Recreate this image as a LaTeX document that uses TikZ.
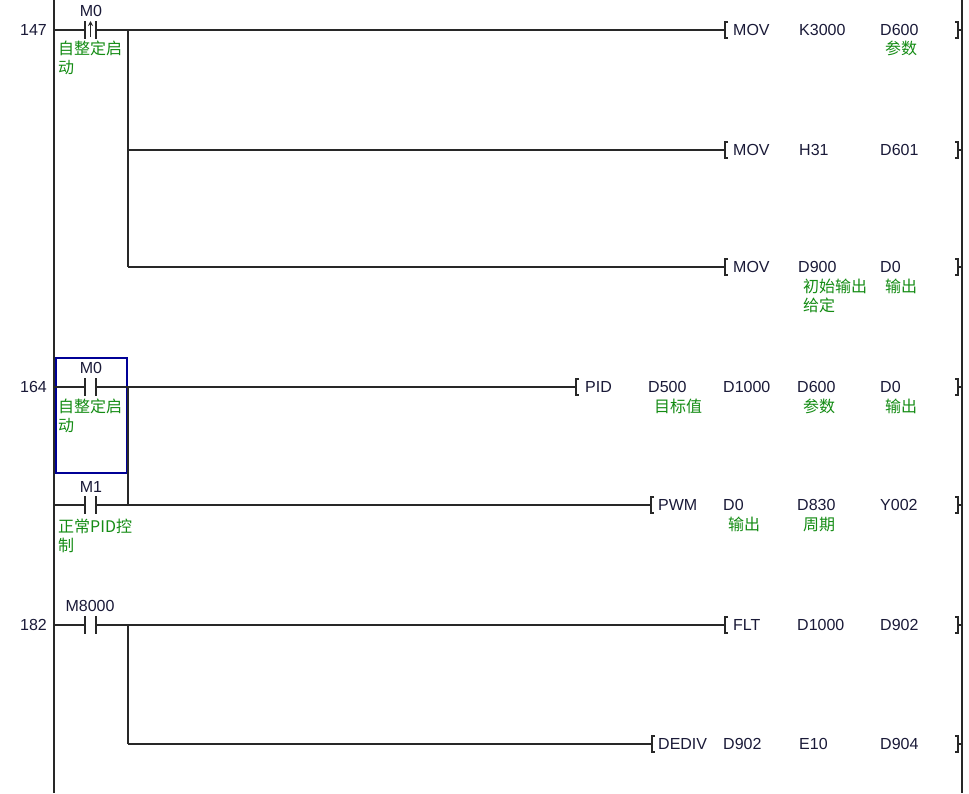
\documentclass[tikz,border=0pt]{standalone}
\usepackage{fontspec}
\setmainfont{Liberation Sans}
\newfontfamily\cjk{Noto Sans CJK SC}
\usetikzlibrary{arrows.meta}
\definecolor{txt}{RGB}{26,26,56}
\definecolor{cmt}{RGB}{20,140,20}
\definecolor{wirec}{RGB}{40,40,40}
\definecolor{selc}{RGB}{0,0,150}
\newcommand\ldctc[2]{%
  \coordinate (#1a) at (85,#2); \coordinate (#1b) at (96,#2);
  \draw[wirest] (85,#2-9) -- (85,#2+9) (96,#2-9) -- (96,#2+9);}
\newcommand\ldins[3]{%
  \coordinate (#1) at (#2,#3);
  \coordinate (#1e) at (958,#3);
  \coordinate (#1r) at (962,#3);
  \draw[wirest] (#2+3,#3-8) -- (#2,#3-8) -- (#2,#3+8) -- (#2+3,#3+8);
  \draw[wirest] (955,#3-8) -- (958,#3-8) -- (958,#3+8) -- (955,#3+8);
  \draw[wirest] (#1e) -- (#1r);}
\begin{document}
\begin{tikzpicture}[x=1pt,y=-1pt,
  wirest/.style={draw=wirec,line width=1.2pt},
  optx/.style={anchor=west,inner sep=0pt,text height=11.5pt,text depth=0pt,font=\fontsize{16}{18}\selectfont,text=txt},
  labtx/.style={anchor=center,inner sep=0pt,text height=11.5pt,text depth=0pt,font=\fontsize{16}{18}\selectfont,text=txt},
  cmtx/.style={anchor=west,inner sep=0pt,text height=11pt,text depth=0pt,font=\cjk\fontsize{16}{18}\selectfont,text=cmt},
  numtx/.style={anchor=east,inner sep=0pt,text height=11.5pt,text depth=0pt,font=\fontsize{16}{18}\selectfont,text=txt}]
\useasboundingbox (0,0) rectangle (969,793);
\fill[white] (0,0) rectangle (969,793);
% rails
\coordinate (LT) at (54,0); \coordinate (LB) at (54,793);
\coordinate (RT) at (962,0); \coordinate (RB) at (962,793);
\draw[wirest] (LT) -- (LB);
\draw[wirest] (RT) -- (RB);
% ---------- rung 147
\node[numtx] (n147) at (47,30) {147};
\coordinate (L1) at (54,30);
\ldctc{c1}{30}
\coordinate (ea) at (90.5,37); \coordinate (eb) at (90.5,21);
\draw[draw=wirec,line width=0.9pt,-{Stealth[length=5pt,width=5pt]}] (ea) -- (eb);
\node[labtx] (m0a) at (91,11) {M0};
\node[cmtx] (m0ac1) at (58,49) {自整定启};
\node[cmtx] (m0ac2) at (58,68) {动};
\coordinate (b1) at (128,30); \coordinate (b2) at (128,150); \coordinate (b3) at (128,267);
\ldins{i1}{725}{30}
\ldins{i2}{725}{150}
\ldins{i3}{725}{267}
\draw[wirest] (L1) -- (c1a);
\draw[wirest] (c1b) -- (i1);
\draw[wirest] (b1) -- (b3);
\draw[wirest] (b2) -- (i2);
\draw[wirest] (b3) -- (i3);
\node[optx] (t11) at (733,30) {MOV};
\node[optx] (t12) at (799,30) {K3000};
\node[optx] (t13) at (880,30) {D600};
\node[cmtx] (t13c) at (885,49) {参数};
\node[optx] (t21) at (733,150) {MOV};
\node[optx] (t22) at (799,150) {H31};
\node[optx] (t23) at (880,150) {D601};
\node[optx] (t31) at (733,267) {MOV};
\node[optx] (t32) at (798,267) {D900};
\node[optx] (t33) at (880,267) {D0};
\node[cmtx] (t32c1) at (803,287) {初始输出};
\node[cmtx] (t32c2) at (803,306) {给定};
\node[cmtx] (t33c) at (885,287) {输出};
% ---------- rung 164
\node[numtx] (n164) at (47,387) {164};
\draw[draw=selc,line width=2pt] (55.5,357.5) rectangle (127,473);
\coordinate (L4) at (54,387);
\ldctc{c4}{387}
\node[labtx] (m0b) at (91,368) {M0};
\node[cmtx] (m0bc1) at (58,407) {自整定启};
\node[cmtx] (m0bc2) at (58,426) {动};
\coordinate (b4) at (128,387); \coordinate (b5) at (128,505);
\coordinate (L5) at (54,505);
\ldctc{c5}{505}
\node[labtx] (m1) at (91,487) {M1};
\node[cmtx] (m1c1) at (58,527) {正常PID控};
\node[cmtx] (m1c2) at (58,546) {制};
\ldins{i4}{576}{387}
\ldins{i5}{651}{505}
\draw[wirest] (L4) -- (c4a);
\draw[wirest] (c4b) -- (i4);
\draw[wirest] (L5) -- (c5a);
\draw[wirest] (c5b) -- (b5);
\draw[wirest] (b4) -- (b5);
\draw[wirest] (b5) -- (i5);
\node[optx] (t41) at (585,387) {PID};
\node[optx] (t42) at (648,387) {D500};
\node[cmtx] (t42c) at (654,407) {目标值};
\node[optx] (t43) at (723,387) {D1000};
\node[optx] (t44) at (797,387) {D600};
\node[cmtx] (t44c) at (803,407) {参数};
\node[optx] (t45) at (880,387) {D0};
\node[cmtx] (t45c) at (885,407) {输出};
\node[optx] (t51) at (658,505) {PWM};
\node[optx] (t52) at (723,505) {D0};
\node[cmtx] (t52c) at (728,525) {输出};
\node[optx] (t53) at (797,505) {D830};
\node[cmtx] (t53c) at (803,525) {周期};
\node[optx] (t54) at (880,505) {Y002};
% ---------- rung 182
\node[numtx] (n182) at (47,625) {182};
\coordinate (L6) at (54,625);
\ldctc{c6}{625}
\node[labtx] (m8000) at (90,606) {M8000};
\coordinate (b6) at (128,625); \coordinate (b7) at (128,744);
\ldins{i6}{725}{625}
\ldins{i7}{652}{744}
\draw[wirest] (L6) -- (c6a);
\draw[wirest] (c6b) -- (i6);
\draw[wirest] (b6) -- (b7);
\draw[wirest] (b7) -- (i7);
\node[optx] (t61) at (733,625) {FLT};
\node[optx] (t62) at (797,625) {D1000};
\node[optx] (t63) at (880,625) {D902};
\node[optx] (t71) at (658,744) {DEDIV};
\node[optx] (t72) at (723,744) {D902};
\node[optx] (t73) at (799,744) {E10};
\node[optx] (t74) at (880,744) {D904};
\end{tikzpicture}
\end{document}
